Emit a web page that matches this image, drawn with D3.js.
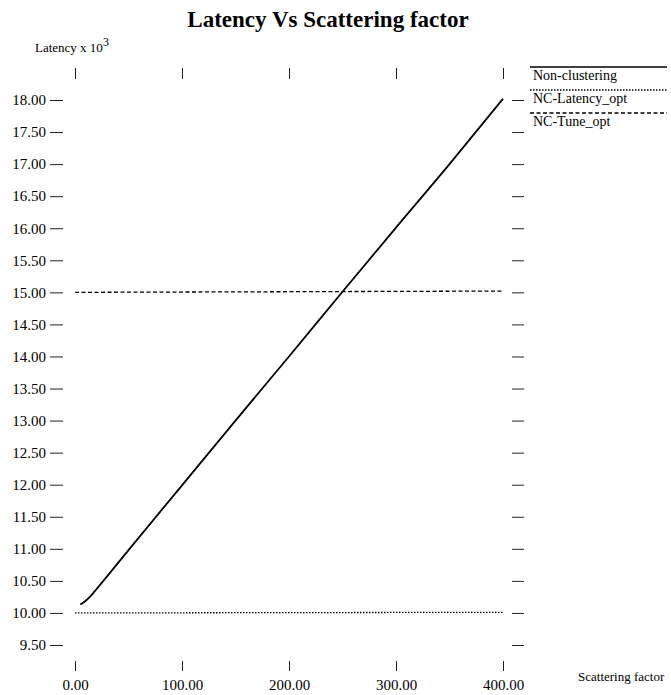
<!DOCTYPE html>
<html>
<head>
<meta charset="utf-8">
<script src="https://cdn.jsdelivr.net/npm/d3@7"></script>
<style>
  body { margin: 0; background: #fff; }
  text { font-family: "Liberation Serif", "Times New Roman", serif; fill: #000; }
</style>
</head>
<body>
<div id="chart"></div>
<script>
const width = 671, height = 695;

// data
const scatter = [5, 10, 15, 20, 30, 50, 100, 150, 200, 250, 300, 350, 400];
const nonClustering = [10.13, 10.19, 10.27, 10.37, 10.57, 10.98, 11.99, 13.0, 14.0, 15.01, 16.01, 17.0, 18.02];
const latencyOptX = [0, 400];
const latencyOpt = [10.0, 10.01];
const tuneOptX = [0, 400];
const tuneOpt = [15.0, 15.02];

const xTicks = [0, 100, 200, 300, 400];
const yTicks = [9.5, 10, 10.5, 11, 11.5, 12, 12.5, 13, 13.5, 14, 14.5, 15, 15.5, 16, 16.5, 17, 17.5, 18];

const legendNames = ["Non-clustering", "NC-Latency_opt", "NC-Tune_opt"];
const dashes = [null, "1.5,1.5", "4,2.5"];

const svg = d3.select("#chart").append("svg")
    .attr("width", width)
    .attr("height", height);

const x = d3.scaleLinear().domain([0, 400]).range([75, 503]);
const y = d3.scaleLinear().domain([9.5, 18]).range([645, 100]);

// title
svg.append("text")
    .attr("x", 328).attr("y", 27)
    .attr("text-anchor", "middle")
    .style("font-size", "23px")
    .style("font-weight", "bold")
    .text("Latency Vs Scattering factor");

// y axis title with superscript
const yt = svg.append("text")
    .attr("x", 35).attr("y", 52)
    .style("font-size", "13px")
    .text("Latency x 10");
yt.append("tspan").attr("dy", -6).style("font-size", "12px").text("3");

svg.append("text")
    .attr("x", 578).attr("y", 681)
    .style("font-size", "13px")
    .text("Scattering factor");

// axes
const fmt = d3.format(".2f");

const left = svg.append("g")
    .attr("transform", "translate(63,0)")
    .call(d3.axisLeft(y).tickValues(yTicks).tickFormat(fmt).tickSize(13).tickPadding(4));

const right = svg.append("g")
    .attr("transform", "translate(524,0)")
    .call(d3.axisLeft(y).tickValues(yTicks).tickFormat("").tickSize(12));

const top_ = svg.append("g")
    .attr("transform", "translate(0,68)")
    .call(d3.axisBottom(x).tickValues(xTicks).tickFormat("").tickSize(11));

const bottom = svg.append("g")
    .attr("transform", "translate(0,661)")
    .call(d3.axisBottom(x).tickValues(xTicks).tickFormat(fmt).tickSize(10).tickPadding(8));

[left, right, top_, bottom].forEach(g => {
    g.select(".domain").remove();
    g.selectAll(".tick line").attr("stroke", "#222").attr("stroke-width", 1);
    g.selectAll(".tick text")
        .style("font-family", "'Liberation Serif', serif")
        .style("font-size", "15px")
        .attr("fill", "#000");
});

// lines
const line = d3.line()
    .x(d => x(d[0]))
    .y(d => y(d[1]))
    .curve(d3.curveMonotoneX);

const series = [
    d3.zip(scatter, nonClustering),
    d3.zip(latencyOptX, latencyOpt),
    d3.zip(tuneOptX, tuneOpt)
];

svg.selectAll("path.series")
    .data(series)
    .enter().append("path")
    .attr("class", "series")
    .attr("d", line)
    .attr("fill", "none")
    .attr("stroke", "#000")
    .attr("stroke-width", (d, i) => i === 0 ? 1.8 : 1.3)
    .attr("stroke-dasharray", (d, i) => dashes[i]);

// legend
const legend = svg.append("g");
legendNames.forEach((name, i) => {
    const ly = 67 + i * 23;
    legend.append("line")
        .attr("x1", 530).attr("x2", 667)
        .attr("y1", ly).attr("y2", ly)
        .attr("stroke", "#000")
        .attr("stroke-width", i === 0 ? 1.6 : 1.3)
        .attr("stroke-dasharray", dashes[i]);
    legend.append("text")
        .attr("x", 533).attr("y", ly + 13)
        .style("font-size", "14px")
        .text(name);
});
</script>
</body>
</html>
